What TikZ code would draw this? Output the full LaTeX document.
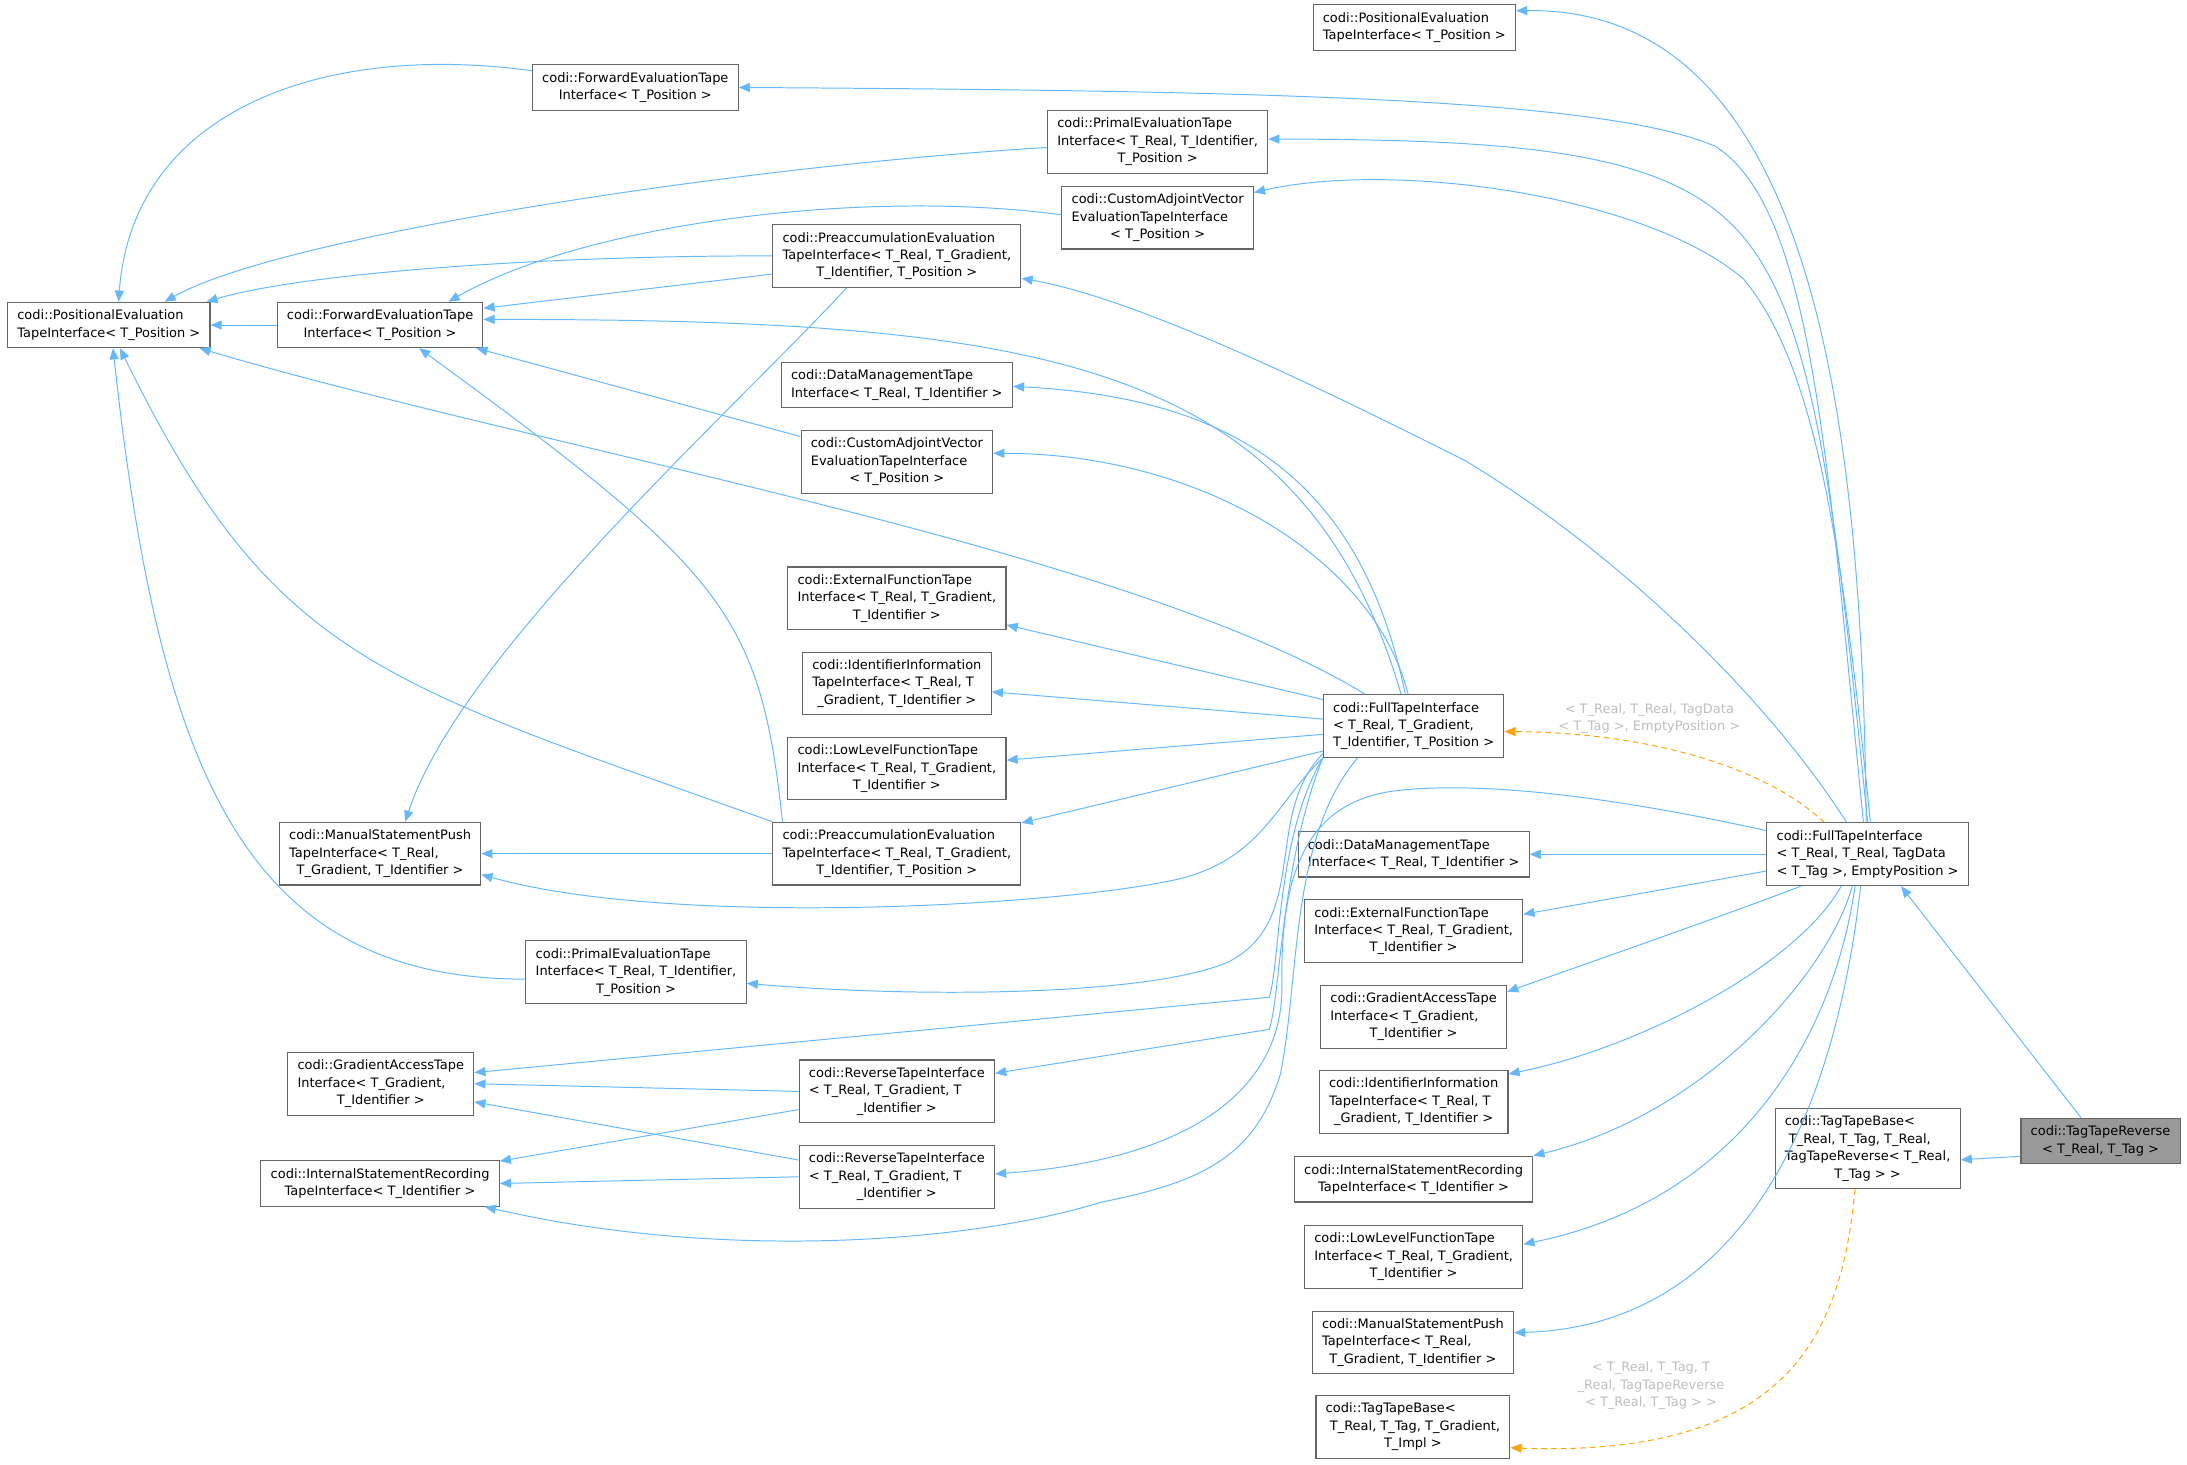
\documentclass[tikz,border=0pt]{standalone}
\usepackage{fontspec}
\setmainfont{DejaVu Sans}
\usetikzlibrary{arrows.meta}
\definecolor{edgeblue}{HTML}{63B8FF}
\definecolor{boxgray}{HTML}{666666}
\definecolor{labelgray}{HTML}{BEBEBE}
\definecolor{tmplorange}{HTML}{FFA500}
\definecolor{basegray}{HTML}{999999}
\newcommand{\clsfont}{\fontsize{9.3}{12.5}\selectfont}
\newcommand{\cls}[2]{\begin{tabular}{@{}l@{}}#1\\\multicolumn{1}{@{}c@{}}{#2}\end{tabular}}
\tikzstyle{klass} = [rectangle, draw=boxgray, line width=0.8pt, fill=white, inner xsep=7pt, inner ysep=3.75pt, font=\clsfont]
\tikzstyle{inh} = [draw=edgeblue, line width=0.7pt, -{Triangle[length=8pt,width=6.5pt]}]
\tikzstyle{tmpl} = [draw=tmplorange, line width=0.7pt, dash pattern=on 4pt off 3pt, -{Triangle[length=8pt,width=6.5pt]}]
\tikzstyle{tmpllabel} = [text=labelgray, font=\clsfont, align=center, inner sep=0pt]

\begin{document}
\begin{tikzpicture}[x=1pt, y=-1pt]
\useasboundingbox (0,0) rectangle (1568,1050);

% Left side (template bases)
\node (posL) [klass] at (78,233) {\cls{codi::PositionalEvaluation}{TapeInterface< T\_Position >}};
\node (fwdL) [klass] at (272.5,233) {\cls{codi::ForwardEvaluationTape}{Interface< T\_Position >}};
\node (fwdT) [klass] at (455.5,62.7) {\cls{codi::ForwardEvaluationTape}{Interface< T\_Position >}};
\node (primT) [klass] at (830,101.7) {\cls{codi::PrimalEvaluationTape\\Interface< T\_Real, T\_Identifier,}{ T\_Position >}};
\node (custT) [klass] at (830,156) {\cls{codi::CustomAdjointVector\\EvaluationTapeInterface}{< T\_Position >}};
\node (preT) [klass] at (643,183.5) {\cls{codi::PreaccumulationEvaluation\\TapeInterface< T\_Real, T\_Gradient,}{ T\_Identifier, T\_Position >}};
\node (dataL) [klass] at (643,276) {\cls{codi::DataManagementTape}{Interface< T\_Real, T\_Identifier >}};
\node (custL) [klass] at (643,331) {\cls{codi::CustomAdjointVector\\EvaluationTapeInterface}{< T\_Position >}};
\node (extL) [klass] at (643,429) {\cls{codi::ExternalFunctionTape\\Interface< T\_Real, T\_Gradient,}{ T\_Identifier >}};
\node (identL) [klass] at (643,490) {\cls{codi::IdentifierInformation\\TapeInterface< T\_Real, T}{\_Gradient, T\_Identifier >}};
\node (lowL) [klass] at (643,551) {\cls{codi::LowLevelFunctionTape\\Interface< T\_Real, T\_Gradient,}{ T\_Identifier >}};
\node (preL) [klass] at (643,612) {\cls{codi::PreaccumulationEvaluation\\TapeInterface< T\_Real, T\_Gradient,}{ T\_Identifier, T\_Position >}};
\node (manL) [klass] at (272.5,612) {\cls{codi::ManualStatementPush\\TapeInterface< T\_Real,}{ T\_Gradient, T\_Identifier >}};
\node (primL) [klass] at (456,697) {\cls{codi::PrimalEvaluationTape\\Interface< T\_Real, T\_Identifier,}{ T\_Position >}};
\node (gradL) [klass] at (273,777) {\cls{codi::GradientAccessTape\\Interface< T\_Gradient,}{ T\_Identifier >}};
\node (revA) [klass] at (643,782.5) {\cls{codi::ReverseTapeInterface\\< T\_Real, T\_Gradient, T}{\_Identifier >}};
\node (intL) [klass] at (272.5,848.5) {\cls{codi::InternalStatementRecording}{TapeInterface< T\_Identifier >}};
\node (revB) [klass] at (643,843.7) {\cls{codi::ReverseTapeInterface\\< T\_Real, T\_Gradient, T}{\_Identifier >}};
\node (fullT) [klass] at (1013.5,520.5) {\cls{codi::FullTapeInterface\\< T\_Real, T\_Gradient,}{ T\_Identifier, T\_Position >}};

% Middle column (bases of the instance)
\node (posT) [klass] at (1014,19.7) {\cls{codi::PositionalEvaluation}{TapeInterface< T\_Position >}};
\node (dataR) [klass] at (1013.5,612.5) {\cls{codi::DataManagementTape}{Interface< T\_Real, T\_Identifier >}};
\node (extR) [klass] at (1013.5,667.5) {\cls{codi::ExternalFunctionTape\\Interface< T\_Real, T\_Gradient,}{ T\_Identifier >}};
\node (gradR) [klass] at (1013.5,729) {\cls{codi::GradientAccessTape\\Interface< T\_Gradient,}{ T\_Identifier >}};
\node (identR) [klass] at (1013.5,790) {\cls{codi::IdentifierInformation\\TapeInterface< T\_Real, T}{\_Gradient, T\_Identifier >}};
\node (intR) [klass] at (1013.5,845.5) {\cls{codi::InternalStatementRecording}{TapeInterface< T\_Identifier >}};
\node (lowR) [klass] at (1013.5,901) {\cls{codi::LowLevelFunctionTape\\Interface< T\_Real, T\_Gradient,}{ T\_Identifier >}};
\node (manR) [klass] at (1013,962.5) {\cls{codi::ManualStatementPush\\TapeInterface< T\_Real,}{ T\_Gradient, T\_Identifier >}};
\node (tagBaseT) [klass] at (1013,1023) {\cls{codi::TagTapeBase<\\\ T\_Real, T\_Tag, T\_Gradient,}{ T\_Impl >}};

% Right side
\node (fullTag) [klass] at (1339,612.5) {\cls{codi::FullTapeInterface\\< T\_Real, T\_Real, TagData}{< T\_Tag >, EmptyPosition >}};
\node (tagBase) [klass] at (1339,823.5) {\cls{codi::TagTapeBase<\\\ T\_Real, T\_Tag, T\_Real,\\TagTapeReverse< T\_Real,}{ T\_Tag > >}};
\node (tagRev) [klass, fill=basegray] at (1506,818) {\cls{codi::TagTapeReverse}{< T\_Real, T\_Tag >}};

% Template labels
\node (lblFull) [tmpllabel] at (1182.5,515) {< T\_Real, T\_Real, TagData\\< T\_Tag >, EmptyPosition >};
\node (lblBase) [tmpllabel] at (1183.7,993.5) {< T\_Real, T\_Tag, T\\\_Real, TagTapeReverse\\< T\_Real, T\_Tag > >};

% Connecting arrows (left side)
\draw [inh] (fwdL) -- (posL);
\draw [inh] ([yshift=12pt]fwdT.west) .. controls (230,30) and (95,80) .. ([xshift=7pt]posL.north);
\draw [inh] ([yshift=-4pt]primT.west) .. controls (520,120) and (200,170) .. ([xshift=40pt]posL.north);
\draw [inh] (preT.west) .. controls (400,183) and (220,195) .. ([xshift=70pt]posL.north);
\draw [inh] ([yshift=-13pt]preT.west) -- ([yshift=12pt]fwdL.east);
\draw [inh] ([yshift=2pt]custT.west) .. controls (620,135) and (420,160) .. ([xshift=49pt]fwdL.north);
\draw [inh] ([yshift=18pt]custL.west) -- ([xshift=69pt]fwdL.south);
\draw [inh] ([xshift=-82pt]preL.north) .. controls (545,440) and (520,410) .. ([xshift=28pt]fwdL.south);
\draw [inh] (preL.north west) .. controls (271,488) and (196,474) .. ([xshift=8pt]posL.south);
\draw [inh] ([xshift=-36pt]preT.south) .. controls (520,300) and (330,470) .. ([xshift=18pt]manL.north);
\draw [inh] (preL) -- (manL);
\draw [inh] ([yshift=-5pt]primL.west) .. controls (175,702) and (114,552) .. ([xshift=3pt]posL.south);
\draw [inh] (revA.west) -- (gradL.east);
\draw [inh] ([yshift=-13pt]revA.west) -- ([yshift=16pt]intL.east);
\draw [inh] ([yshift=12pt]revB.west) -- ([yshift=-13pt]gradL.east);
\draw [inh] (revB.west) -- (intL.east);

% FullTapeInterface template
\draw [inh] ([xshift=-35pt]fullT.north) .. controls (808,393) and (383,321) .. ([xshift=65pt]posL.south);
\draw [inh] ([xshift=-9pt]fullT.north) .. controls (934,257) and (747,229) .. ([yshift=4pt]fwdL.east);
\draw [inh] ([xshift=-6pt]fullT.north) .. controls (975,340) and (880,285) .. ([yshift=-1pt]dataL.east);
\draw [inh] ([xshift=-4pt]fullT.north) .. controls (985,400) and (860,325) .. ([yshift=6pt]custL.east);
\draw [inh] ([yshift=19pt]fullT.west) -- ([yshift=-19pt]extL.east);
\draw [inh] ([yshift=5pt]fullT.west) -- ([yshift=-6pt]identL.east);
\draw [inh] ([yshift=-6pt]fullT.west) -- ([yshift=6pt]lowL.east);
\draw [inh] ([yshift=-18pt]fullT.west) -- ([yshift=22pt]preL.east);
\draw [inh] (fullT.south west) .. controls (915,575) and (905,615) .. (846,630) .. controls (760,650) and (480,665) .. ([yshift=-15pt]manL.east);
\draw [inh] ([yshift=3pt]fullT.south west) .. controls (905,585) and (940,660) .. (880,690) .. controls (820,715) and (650,715) .. ([yshift=-8pt]primL.east);
\draw [inh] (fullT.south west) .. controls (915,600) and (918,690) .. (910,715) -- ([yshift=8pt]gradL.east);
\draw [inh] (fullT.south west) .. controls (918,620) and (918,715) .. (910,738) -- ([yshift=13pt]revA.east);
\draw [inh] ([xshift=25pt]fullT.south west) .. controls (925,600) and (932,700) .. (918,770) .. controls (900,830) and (860,848) .. (789,862) .. controls (700,890) and (520,905) .. ([xshift=75pt]intL.south);

% FullTapeInterface instance
\draw [tmpl] ([xshift=-31pt]fullTag.north) .. controls (1260,545) and (1170,525) .. ([yshift=-4pt]fullT.east);
\draw [inh] ([xshift=-1pt]fullTag.north) .. controls (1335,300) and (1300,5) .. ([yshift=12pt]posT.east);
\draw [inh] ([xshift=-3pt]fullTag.north) .. controls (1310,330) and (1300,150) .. (1230,105) .. controls (1150,70) and (900,65) .. (fwdT.east);
\draw [inh] (fullTag.north) .. controls (1315,350) and (1300,230) .. (1250,170) .. controls (1200,110) and (1100,100) .. ([yshift=2pt]primT.east);
\draw [inh] ([xshift=2pt]fullTag.north) .. controls (1320,380) and (1300,260) .. (1250,200) .. controls (1180,140) and (1000,115) .. ([yshift=18pt]custT.east);
\draw [inh] ([xshift=-15pt]fullTag.north) .. controls (1260,490) and (1150,390) .. (1050,330) .. controls (960,285) and (820,215) .. ([yshift=-16pt]preT.east);
\draw [inh] (fullTag) -- (dataR);
\draw [inh] ([yshift=-12pt]fullTag.west) -- ([yshift=12pt]extR.east);
\draw [inh] ([xshift=-48pt]fullTag.south) .. controls (1240,655) and (1140,690) .. ([yshift=18pt]gradR.east);
\draw [inh] ([xshift=-19pt]fullTag.south) .. controls (1290,690) and (1180,750) .. ([yshift=20pt]identR.east);
\draw [inh] ([xshift=-11pt]fullTag.south) .. controls (1310,700) and (1220,800) .. ([yshift=17pt]intR.east);
\draw [inh] ([xshift=-9pt]fullTag.south) .. controls (1315,740) and (1250,860) .. ([yshift=9pt]lowR.east);
\draw [inh] ([xshift=-5pt]fullTag.south) .. controls (1320,760) and (1270,950) .. ([yshift=7pt]manR.east);
\draw [inh] ([yshift=17pt]fullTag.west) .. controls (1150,570) and (1060,560) .. (1000,567) .. controls (940,575) and (918,620) .. (919,705) .. controls (921,770) and (870,830) .. ([yshift=2pt]revB.east);

% TagTapeReverse
\draw [inh] ([xshift=-14pt]tagRev.north) -- ([xshift=24pt]fullTag.south);
\draw [inh] ([yshift=-11pt]tagRev.west) -- ([yshift=-8pt]tagBase.east);
\draw [tmpl] ([xshift=-9pt]tagBase.south) .. controls (1320,960) and (1280,1045) .. ([yshift=-15pt]tagBaseT.east);

\end{tikzpicture}
\end{document}
